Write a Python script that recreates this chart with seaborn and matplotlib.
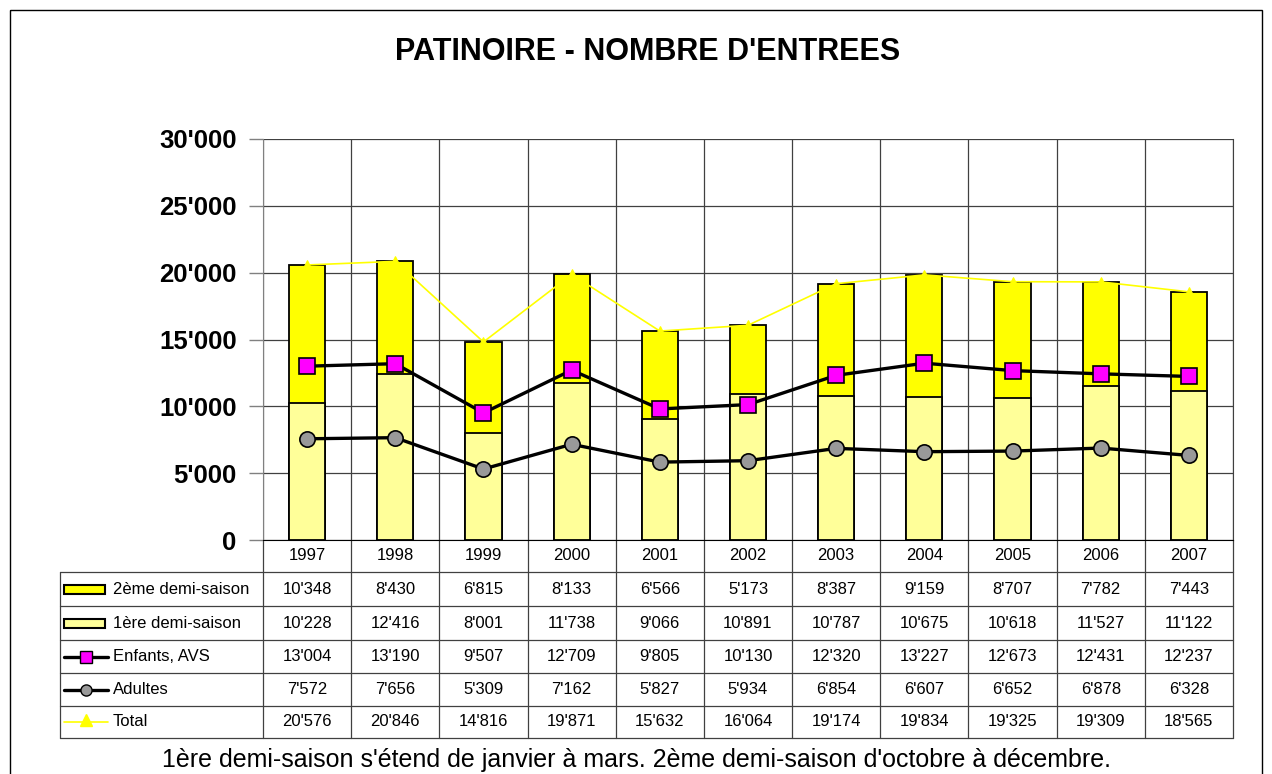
import numpy as np
import pandas as pd
import matplotlib
matplotlib.use("Agg")
import matplotlib.pyplot as plt
import seaborn as sns
from matplotlib.ticker import FuncFormatter
from matplotlib.lines import Line2D
from matplotlib.patches import Rectangle

sns.set_style("white")
plt.rcParams['font.family'] = ['Liberation Sans', 'DejaVu Sans']
plt.rcParams['text.color'] = 'black'
plt.rcParams['ytick.labelcolor'] = 'black'

years = ['1997', '1998', '1999', '2000', '2001', '2002', '2003', '2004', '2005', '2006', '2007']
saison2 = [10348, 8430, 6815, 8133, 6566, 5173, 8387, 9159, 8707, 7782, 7443]
saison1 = [10228, 12416, 8001, 11738, 9066, 10891, 10787, 10675, 10618, 11527, 11122]
enfants = [13004, 13190, 9507, 12709, 9805, 10130, 12320, 13227, 12673, 12431, 12237]
adultes = [7572, 7656, 5309, 7162, 5827, 5934, 6854, 6607, 6652, 6878, 6328]
total = [20576, 20846, 14816, 19871, 15632, 16064, 19174, 19834, 19325, 19309, 18565]

df = pd.DataFrame({'year': years, 'pos': np.arange(len(years)),
                   's1': saison1, 's2': saison2,
                   'enfants': enfants, 'adultes': adultes, 'total': total})
df['stack'] = df['s1'] + df['s2']


def fmt(v, pos=None):
    return f"{int(v):,}".replace(",", "'")


W, H = 1272, 774
x0, x1, y0, y1 = 263, 1233, 139, 540
fig = plt.figure(figsize=(W / 100, H / 100), dpi=100)
ax = fig.add_axes([x0 / W, 1 - y1 / H, (x1 - x0) / W, (y1 - y0) / H])

# stacked bars: full stack first, then the 1st half-season over it
sns.barplot(data=df, x='year', y='stack', color='#FFFF00', saturation=1,
            edgecolor='black', linewidth=1.3, width=0.41, ax=ax, zorder=3)
sns.barplot(data=df, x='year', y='s1', color='#FFFF99', saturation=1,
            edgecolor='black', linewidth=1.3, width=0.41, ax=ax, zorder=3)

sns.lineplot(data=df, x='pos', y='total', color='#FFFF00', lw=1.2, marker='^',
             markersize=7, markerfacecolor='#FFFF00', markeredgecolor='#FFFF00',
             ax=ax, zorder=4)
sns.lineplot(data=df, x='pos', y='enfants', color='black', lw=2.4, marker='s',
             markersize=11, markerfacecolor='#FF00FF', markeredgecolor='black',
             markeredgewidth=1.2, ax=ax, zorder=5)
sns.lineplot(data=df, x='pos', y='adultes', color='black', lw=2.4, marker='o',
             markersize=11, markerfacecolor='#999999', markeredgecolor='black',
             markeredgewidth=1.2, ax=ax, zorder=5)

ax.set_xlim(-0.5, len(years) - 0.5)
ax.set_ylim(0, 30000)
ax.set_yticks(np.arange(0, 30001, 5000))
ax.yaxis.set_major_formatter(FuncFormatter(fmt))
ax.set_xticks([])
ax.set_xticks(np.arange(-0.5, len(years), 1), minor=True)
ax.xaxis.grid(True, which='minor', color='#404040', lw=0.9)
ax.yaxis.grid(True, which='major', color='#404040', lw=0.9)
ax.tick_params(axis='x', which='minor', length=0)
ax.tick_params(axis='y', length=10, width=1, color='#808080', pad=9,
               left=True, labelsize=18.5, labelcolor='black')
for lab in ax.get_yticklabels():
    lab.set_fontweight('bold')
ax.set_xlabel('')
ax.set_ylabel('')
if ax.get_legend():
    ax.get_legend().remove()
ax.spines['top'].set_visible(False)
ax.spines['left'].set_color('#808080')
ax.spines['bottom'].set_color('black')
ax.spines['right'].set_color('#404040')

# data table below the chart
tax = fig.add_axes([0, 0, 1, 1], zorder=-1)
tax.set_xlim(0, W)
tax.set_ylim(H, 0)
tax.axis('off')

col_w = (x1 - x0) / len(years)
row_edges = [572, 606, 640, 673, 706, 738]
lc = '#404040'
for i in range(len(years) + 1):
    xx = x0 + i * col_w
    tax.plot([xx, xx], [540, 738], color=lc, lw=0.9)
tax.plot([60, 60], [572, 738], color=lc, lw=0.9)
for ry in row_edges:
    tax.plot([60, x1], [ry, ry], color=lc, lw=0.9)
for i, y in enumerate(years):
    tax.text(x0 + (i + 0.5) * col_w, 556, y, ha='center', va='center', fontsize=12)

rows = [('2ème demi-saison', saison2), ('1ère demi-saison', saison1),
        ('Enfants, AVS', enfants), ('Adultes', adultes), ('Total', total)]
for r, (name, vals) in enumerate(rows):
    cy = (row_edges[r] + row_edges[r + 1]) / 2
    for i, v in enumerate(vals):
        tax.text(x0 + (i + 0.5) * col_w, cy, fmt(v), ha='center', va='center', fontsize=12)
    tax.text(113, cy, name, ha='left', va='center', fontsize=12)
    if r < 2:
        fc = '#FFFF00' if r == 0 else '#FFFF99'
        tax.add_patch(Rectangle((64, cy - 4), 41, 9, facecolor=fc, edgecolor='black', lw=1.5))
    elif r < 4:
        mfc = '#FF00FF' if r == 2 else '#999999'
        mk = 's' if r == 2 else 'o'
        tax.add_line(Line2D([64, 108], [cy, cy], color='black', lw=2.4))
        tax.add_line(Line2D([86], [cy], marker=mk, markersize=8, markerfacecolor=mfc,
                            markeredgecolor='black', lw=0))
    else:
        tax.add_line(Line2D([64, 108], [cy, cy], color='#FFFF00', lw=1.2))
        tax.add_line(Line2D([86], [cy - 2], marker='^', markersize=9,
                            markerfacecolor='#FFFF00', markeredgecolor='#FFFF00', lw=0))

# outer frame
tax.add_patch(Rectangle((10, 10), 1252, 800, facecolor='none', edgecolor='black', lw=1))

fig.text(648 / W, 1 - 52 / H, "PATINOIRE - NOMBRE D'ENTREES", ha='center', va='center',
         fontsize=22, fontweight='bold')
fig.text(636 / W, 1 - 767 / H,
         "1ère demi-saison s'étend de janvier à mars. 2ème demi-saison d'octobre à décembre.",
         ha='center', va='baseline', fontsize=18)

fig.savefig('out.png', dpi=100)
